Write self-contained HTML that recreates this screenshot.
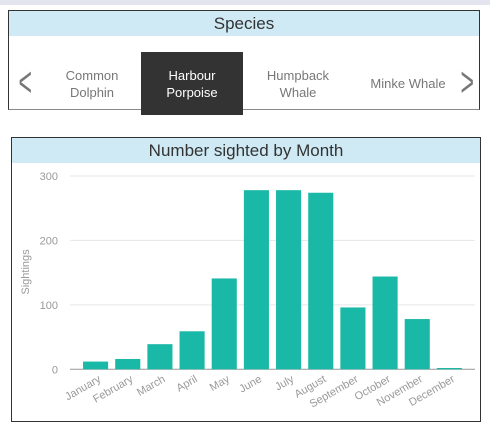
<!DOCTYPE html>
<html><head><meta charset="utf-8"><style>
body{margin:0;width:490px;height:430px;background:#fff;font-family:"Liberation Sans",sans-serif;position:relative;overflow:hidden}
.abs{position:absolute}
.panel{position:absolute;border:1px solid #333;background:#fff;box-sizing:border-box}
.hdr{position:absolute;left:0;right:0;top:0;background:#cfeaf4;color:#333;text-align:center}
.item{position:absolute;top:41px;width:102px;height:63px;display:flex;align-items:center;justify-content:center;text-align:center;font-size:13px;color:#777;line-height:17px}
</style></head><body>
<div class="abs" style="left:0;top:0;width:490px;height:5px;background:#e4e4ee"></div>
<div class="panel" style="left:8px;top:10px;width:472px;height:100px;border-bottom-color:#888">
  <div class="hdr" style="height:25px;line-height:26px;font-size:17px">Species</div>
  <div class="abs" style="left:4px;top:50px;font-size:42px;color:#777;line-height:42px;transform:scaleX(0.55)">&lt;</div>
  <div class="item" style="left:32px">Common<br>Dolphin</div>
  <div class="item" style="left:132px;background:#333;color:#fff">Harbour<br>Porpoise</div>
  <div class="item" style="left:238px">Humpback<br>Whale</div>
  <div class="item" style="left:344px;width:110px">Minke Whale</div>
  <div class="abs" style="left:446px;top:50px;font-size:42px;color:#777;line-height:42px;transform:scaleX(0.55)">&gt;</div>
</div>
<div class="panel" style="left:11px;top:137px;width:470px;height:285px">
  <div class="hdr" style="height:25px;line-height:26px;font-size:17px">Number sighted by Month</div>
</div>
<svg id="chart" class="abs" style="left:0;top:0" width="490" height="430"></svg>
<script>
const months=["January","February","March","April","May","June","July","August","September","October","November","December"];
const sightings=[12,16,39,59,141,278,278,274,96,144,78,2];
const yTicks=[0,100,200,300];
const svg=document.getElementById('chart');const NS='http://www.w3.org/2000/svg';
const y0=369.3,y300=176,xL=79.5,xR=465.5;
const y=v=>y0+(y300-y0)*v/300;
const step=(xR-xL)/months.length;
const x=i=>xL+i*step;
function mk(t,a){const e=document.createElementNS(NS,t);for(const k in a)e.setAttribute(k,a[k]);svg.appendChild(e);return e;}
yTicks.forEach(v=>{
 const g=mk('line',{x1:70,x2:475,y1:y(v),y2:y(v),stroke:v===0?'#999':'#e6e6e6','stroke-width':1});
 
 
 const t=mk('text',{x:58,y:y(v)+4,'font-size':11,fill:'#999','text-anchor':'end'});t.textContent=v;
 
 
});
const yt=mk('text',{x:0,y:0,'font-size':11,fill:'#999','text-anchor':'middle',transform:'translate(29,272) rotate(-90)'});yt.textContent='Sightings';


months.forEach((m,i)=>{
 const bw=step*0.78,bx=x(i)+(step-bw)/2;
 const r=mk('rect',{x:bx,y:y(sightings[i]),width:bw,height:y0-y(sightings[i]),fill:'#1ab8a6'});
 
 
 const cx=x(i)+step/2+6;
 const t=mk('text',{x:cx,y:381,'font-size':11,fill:'#999','text-anchor':'end',transform:`rotate(-30 ${cx} 381)`});t.textContent=m;
 
 
});
</script>
</body></html>
